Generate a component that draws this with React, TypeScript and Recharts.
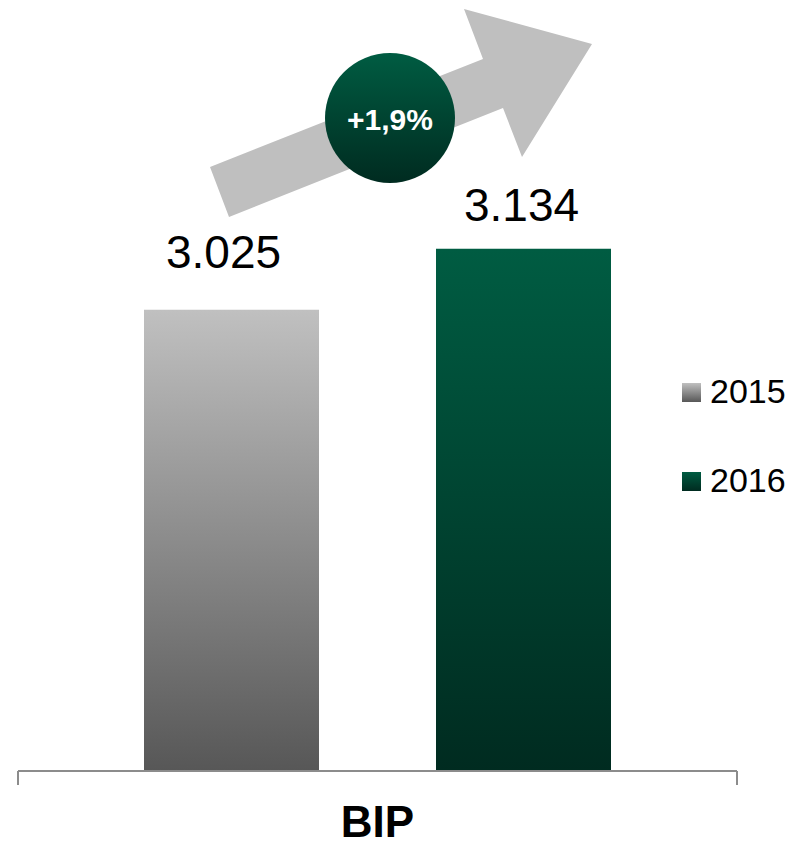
import React from "react";
import { BarChart, Bar, XAxis, YAxis, LabelList } from "recharts";

// ---- data ----
const categories = ["BIP"];
const values2015 = [3025];
const values2016 = [3134];
const seriesNames = ["2015", "2016"];
const valueLabels2015 = ["3.025"];
const valueLabels2016 = ["3.134"];
const growthLabel = "+1,9%";
const yDomain = [2200, 3400];

const data = categories.map((name, i) => ({
  name,
  v2015: values2015[i],
  v2016: values2016[i],
  l2015: valueLabels2015[i],
  l2016: valueLabels2016[i],
}));

const W = 794;
const H = 847;
const MARGIN = { top: 100, right: 57, left: 18, bottom: 0 };
const PLOT_W = W - MARGIN.left - MARGIN.right;
const FONT = "'Liberation Sans', Arial, sans-serif";
const GRAD = [
  ["#C0C0C0", "#575757"],
  ["#005C42", "#002B20"],
];

const GrayLabel = (props: any) => {
  const { x, y, width, value } = props;
  return (
    <text x={x + width / 2 - 8} y={y - 42} textAnchor="middle" fontFamily={FONT} fontSize={46} fill="#000">
      {value}
    </text>
  );
};
const GreenLabel = (props: any) => {
  const { x, y, width, value } = props;
  return (
    <text x={x + width / 2 - 2} y={y - 28} textAnchor="middle" fontFamily={FONT} fontSize={46} fill="#000">
      {value}
    </text>
  );
};

const CatTick = (props: any) => {
  const { x, y, payload } = props;
  const half = PLOT_W / 2;
  return (
    <g>
      <line x1={x - half} x2={x - half} y1={y} y2={y + 14} stroke="#8c8c8c" strokeWidth={2} />
      <line x1={x + half} x2={x + half} y1={y} y2={y + 14} stroke="#8c8c8c" strokeWidth={2} />
      <text x={x} y={y + 66} textAnchor="middle" fontFamily={FONT} fontSize={44} fontWeight="bold" fill="#000">
        {payload.value}
      </text>
    </g>
  );
};

export default function App() {
  return (
    <div style={{ position: "absolute", left: 0, top: 0, width: W, height: H, background: "#fff" }}>
      <BarChart width={W} height={H} data={data} margin={MARGIN} barGap={117}>
        <defs>
          {GRAD.map((g, i) => (
            <linearGradient key={i} id={`g${i}`} x1="0" y1="0" x2="0" y2="1">
              <stop offset="0" stopColor={g[0]} />
              <stop offset="1" stopColor={g[1]} />
            </linearGradient>
          ))}
        </defs>
        <polygon
          points="210,167 483,59 464,9 592,44 522,157 503,108 229,217"
          fill="#BFBFBF"
        />
        <circle cx={390} cy={118} r={65} fill="url(#g1)" />
        <text x={390} y={130} textAnchor="middle" fontFamily={FONT} fontSize={30} fontWeight="bold" fill="#fff">
          {growthLabel}
        </text>
        <g>
          {seriesNames.map((n, i) => (
            <g key={n} transform={`translate(682, ${383 + i * 89})`}>
              <rect x={0} y={0} width={19} height={19} fill={`url(#g${i})`} />
              <text x={28} y={20} fontFamily={FONT} fontSize={34} fill="#000">
                {n}
              </text>
            </g>
          ))}
        </g>
        <XAxis
          dataKey="name"
          height={76}
          tickSize={0}
          tickMargin={0}
          axisLine={{ stroke: "#8c8c8c", strokeWidth: 2 }}
          tick={<CatTick />}
        />
        <YAxis hide domain={yDomain} />
        <Bar dataKey="v2015" name={seriesNames[0]} fill="url(#g0)" barSize={175} isAnimationActive={false}>
          <LabelList dataKey="l2015" content={<GrayLabel />} />
        </Bar>
        <Bar dataKey="v2016" name={seriesNames[1]} fill="url(#g1)" barSize={175} isAnimationActive={false}>
          <LabelList dataKey="l2016" content={<GreenLabel />} />
        </Bar>
      </BarChart>
    </div>
  );
}
